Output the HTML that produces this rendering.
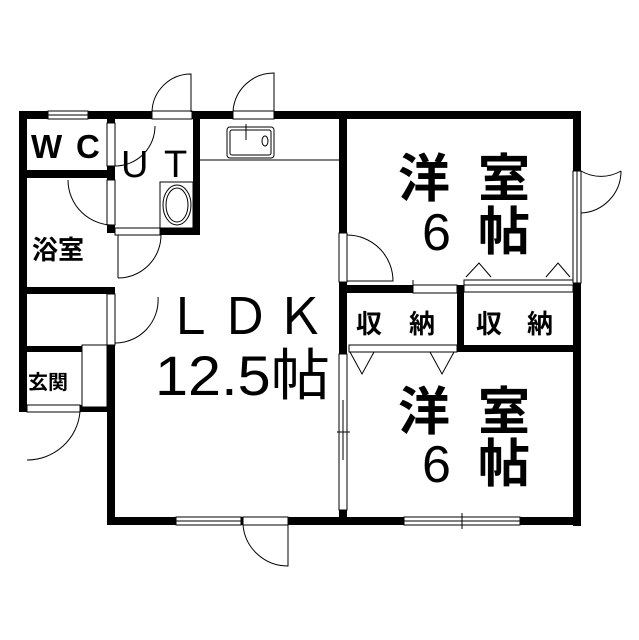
<!DOCTYPE html>
<html><head><meta charset="utf-8"><style>
html,body{margin:0;padding:0;background:#fff;}
svg{display:block;}
text{font-family:"Liberation Sans","Noto Sans CJK JP",sans-serif;fill:#000;}
.b{font-weight:bold;}
</style></head><body>
<svg width="639" height="640" viewBox="0 0 639 640" xmlns="http://www.w3.org/2000/svg">
<g fill="#000">
<rect x="19" y="111" width="562" height="8"/>
<rect x="19" y="111" width="8" height="301"/>
<rect x="573" y="111" width="8" height="415"/>
<rect x="107" y="517" width="474" height="8"/>
<rect x="107" y="345" width="8" height="180"/>
<rect x="19" y="170" width="96" height="8"/>
<rect x="19" y="287" width="96" height="7"/>
<rect x="19" y="346" width="63" height="6"/>
<rect x="80" y="405" width="35" height="7"/>
<rect x="107" y="119" width="8" height="4"/>
<rect x="107" y="166" width="8" height="14"/>
<rect x="107" y="225" width="8" height="8"/>
<rect x="193" y="119" width="7" height="116"/>
<rect x="160" y="228" width="40" height="7"/>
<rect x="339" y="119" width="8" height="114"/>
<rect x="339" y="282" width="8" height="72"/>
<rect x="339" y="510" width="8" height="15"/>
<rect x="339" y="285" width="74" height="8"/>
<rect x="457" y="285" width="7" height="67"/>
<rect x="457" y="345" width="124" height="7"/>
</g>
<g fill="#fff" stroke="#000" stroke-width="1">
<rect x="48" y="111" width="40" height="8"/>
<rect x="176" y="517" width="65" height="8"/>
<rect x="404" y="517" width="116" height="8"/>
<rect x="573" y="171" width="8" height="112"/>
<rect x="339" y="354" width="8" height="156"/>
<rect x="152" y="111" width="40" height="8"/>
<rect x="233" y="111" width="41" height="8"/>
<rect x="107" y="123" width="8" height="43"/>
<rect x="107" y="180" width="8" height="45"/>
<rect x="115" y="228" width="45" height="7"/>
<rect x="107" y="294" width="8" height="51"/>
<rect x="27" y="405" width="53" height="7"/>
<rect x="82" y="345" width="25" height="62"/>
<rect x="243" y="517" width="45" height="8"/>
<rect x="339" y="233" width="8" height="49"/>
<rect x="413" y="285" width="44" height="8"/>
<rect x="464" y="285" width="109" height="7"/>
<rect x="349" y="345" width="108" height="7"/>
</g>
<g fill="none" stroke="#000" stroke-width="1">
<path d="M152 112 A39 39 0 0 1 191 74 L191 112"/>
<path d="M233 112 A41 41 0 0 1 274 73 L274 112"/>
<path d="M115 166 A40 40 0 0 0 155 126"/>
<path d="M115 225 A45 45 0 0 1 68 180"/>
<path d="M118 278 A43 43 0 0 0 161 235 M118 235 L118 278"/>
<path d="M115 343 A43 43 0 0 0 158 297"/>
<path d="M27 460 A53 53 0 0 0 80 412"/>
<path d="M243 525 A45 45 0 0 0 288 566 L288 525"/>
<path d="M347 235 A46 46 0 0 1 393 281 L347 281"/>
<path d="M581 171 A40 40 0 0 0 621 171 M581 213 A42 42 0 0 0 621 171"/>
<path d="M466 277 L479 263 L491 277 M546 277 L558 263 L570 277"/>
<path d="M350 352 L362 374 L374 352 M430 352 L442 374 L454 352"/>
<path d="M464 285 L464 280 L573 280 M413 285 L413 280"/>
<line x1="462" y1="513" x2="462" y2="529"/>
<line x1="337" y1="432" x2="350" y2="432"/>
<line x1="343" y1="400" x2="343" y2="460"/>
<line x1="577" y1="171" x2="577" y2="283"/>
<line x1="404" y1="521" x2="520" y2="521"/>
<line x1="176" y1="521" x2="241" y2="521"/>
<line x1="48" y1="115" x2="88" y2="115"/>
<line x1="200" y1="160" x2="339" y2="160"/>
<rect x="227" y="127" width="47" height="31" rx="3"/>
<rect x="230" y="130" width="41" height="25" rx="2"/>
<line x1="246" y1="124" x2="246" y2="140"/>
<ellipse cx="265" cy="141" rx="3" ry="5"/>
<rect x="160" y="182" width="33" height="46"/>
<ellipse cx="177" cy="205" rx="14" ry="20"/>
<ellipse cx="177" cy="205" rx="11" ry="17"/>
</g>
<text x="31" y="158" font-size="33" class="b">W</text>
<text x="76" y="158" font-size="33" class="b">C</text>
<text x="121" y="177" font-size="38">U</text>
<text x="164" y="177" font-size="38">T</text>
<text x="32" y="259" font-size="26" class="b">浴室</text>
<text x="28" y="389" font-size="20" class="b">玄関</text>
<text x="165" y="334" font-size="50" textLength="160">ＬＤＫ</text>
<text x="155" y="395" font-size="56" textLength="175" lengthAdjust="spacingAndGlyphs">12.5帖</text>
<text x="398" y="197" font-size="52" class="b">洋</text>
<text x="478" y="197" font-size="52" class="b">室</text>
<text x="422" y="250" font-size="52">6</text>
<text x="478" y="250" font-size="52" class="b">帖</text>
<text x="398" y="430" font-size="52" class="b">洋</text>
<text x="478" y="430" font-size="52" class="b">室</text>
<text x="422" y="482" font-size="52">6</text>
<text x="478" y="482" font-size="52" class="b">帖</text>
<text x="356" y="333" font-size="26" class="b">収</text>
<text x="409" y="333" font-size="26" class="b">納</text>
<text x="476" y="333" font-size="26" class="b">収</text>
<text x="527" y="333" font-size="26" class="b">納</text>
</svg>
</body></html>
